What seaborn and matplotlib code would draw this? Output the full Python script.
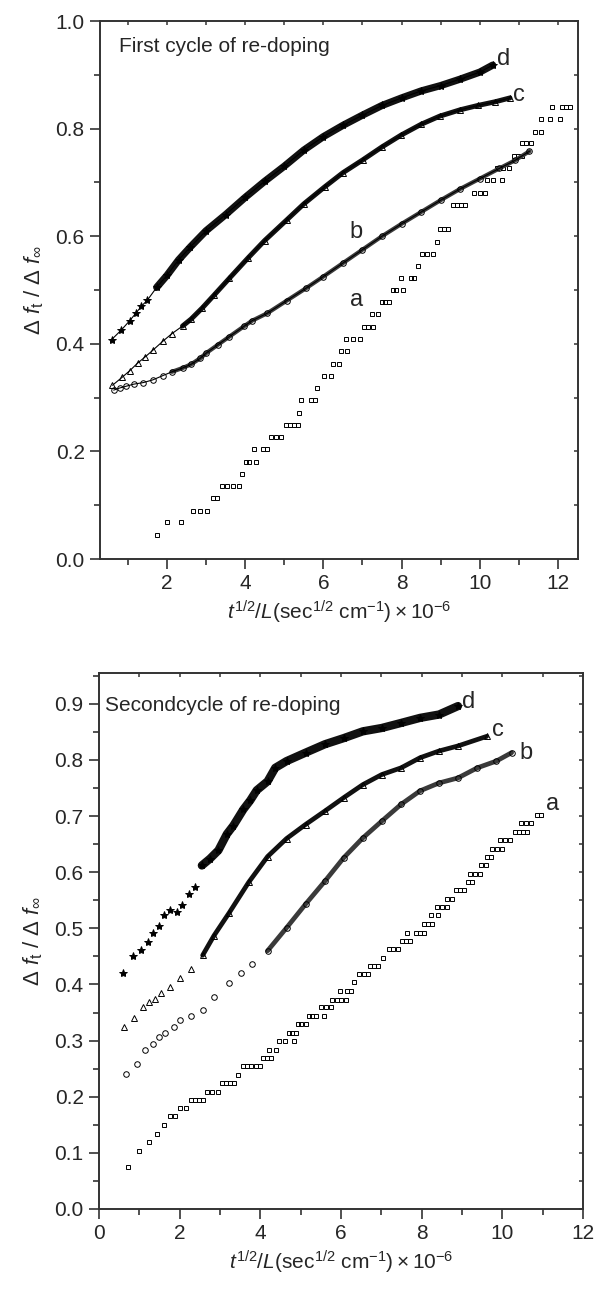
import numpy as np
import pandas as pd
import matplotlib
matplotlib.use("Agg")
import matplotlib.pyplot as plt
import seaborn as sns
from matplotlib.ticker import MultipleLocator

# ---------------- first cycle of re-doping (top) ----------------
top_d_x = [0.59, 0.84, 1.05, 1.22, 1.35, 1.50, 1.74, 2.00, 2.30, 2.60, 3.00, 3.50, 4.00,
           4.50, 5.00, 5.50, 6.00, 6.50, 7.00, 7.50, 8.00, 8.50, 9.00, 9.50, 10.00, 10.33]
top_d_y = [0.408, 0.426, 0.443, 0.458, 0.470, 0.481, 0.505, 0.527, 0.556, 0.580, 0.610, 0.640, 0.672,
           0.702, 0.730, 0.760, 0.785, 0.806, 0.825, 0.843, 0.857, 0.870, 0.880, 0.892, 0.905, 0.918]

top_c_x = [0.61, 0.86, 1.05, 1.25, 1.45, 1.64, 1.90, 2.13, 2.40, 2.62, 2.91, 3.20, 3.60, 4.08,
           4.50, 5.06, 5.50, 6.04, 6.50, 7.01, 7.50, 7.99, 8.50, 8.97, 9.50, 9.95, 10.40, 10.77]
top_c_y = [0.323, 0.338, 0.350, 0.364, 0.376, 0.388, 0.405, 0.419, 0.433, 0.446, 0.467, 0.490, 0.522, 0.560,
           0.592, 0.630, 0.660, 0.692, 0.718, 0.742, 0.766, 0.788, 0.808, 0.823, 0.835, 0.843, 0.850, 0.857]

top_b_x = [0.64, 0.80, 0.95, 1.15, 1.40, 1.64, 1.90, 2.13, 2.40, 2.62, 2.85, 3.01, 3.30, 3.59, 3.98,
           4.18, 4.57, 5.06, 5.55, 6.00, 6.50, 7.00, 7.50, 8.00, 8.50, 9.00, 9.50, 10.00, 10.50, 10.90, 11.27]
top_b_y = [0.314, 0.318, 0.321, 0.325, 0.328, 0.333, 0.341, 0.348, 0.355, 0.362, 0.373, 0.383, 0.398, 0.413, 0.433,
           0.443, 0.457, 0.480, 0.503, 0.525, 0.550, 0.575, 0.600, 0.623, 0.645, 0.667, 0.688, 0.707, 0.726, 0.741, 0.758]

# curve a is a staircase: each level and the x positions of the squares on it
top_a_rows = [
    (0.045, [1.74]), (0.068, [2.01, 2.36]), (0.090, [2.66, 2.84, 3.02]), (0.113, [3.17, 3.27]),
    (0.136, [3.40, 3.55, 3.70, 3.85]), (0.158, [3.91]), (0.181, [4.03, 4.09, 4.28]),
    (0.204, [4.23, 4.45, 4.57]), (0.227, [4.67, 4.79, 4.93]), (0.250, [5.04, 5.14, 5.24, 5.34]),
    (0.272, [5.38]), (0.295, [5.43, 5.69, 5.79]), (0.318, [5.84]), (0.340, [6.02, 6.19]),
    (0.363, [6.26, 6.39]), (0.386, [6.46, 6.61]), (0.409, [6.58, 6.76, 6.93]),
    (0.432, [7.03, 7.13, 7.28]), (0.455, [7.25, 7.40]), (0.478, [7.51, 7.58, 7.68]),
    (0.500, [7.77, 7.87, 8.04]), (0.523, [7.98, 8.24, 8.33]), (0.545, [8.43]),
    (0.567, [8.53, 8.66, 8.80]), (0.590, [8.90]), (0.614, [8.99, 9.09, 9.18]),
    (0.658, [9.32, 9.42, 9.52, 9.62]), (0.681, [9.85, 10.00, 10.14]), (0.705, [10.19, 10.34, 10.58]),
    (0.726, [10.45, 10.60, 10.75]), (0.749, [10.88, 10.98, 11.07]), (0.773, [11.07, 11.17, 11.32]),
    (0.794, [11.41, 11.56]), (0.818, [11.56, 11.80, 12.05]), (0.841, [11.85, 12.10, 12.20, 12.31]),
]

# ---------------- second cycle of re-doping (bottom) ----------------
bot_d_x = [0.59, 0.85, 1.04, 1.21, 1.35, 1.49, 1.60, 1.76, 1.93, 2.05, 2.22, 2.38, 2.55, 2.75, 2.96,
           3.17, 3.33, 3.58, 3.75, 3.91, 4.18, 4.37, 4.65, 5.12, 5.60, 6.07, 6.54, 7.01, 7.49, 7.96, 8.43, 8.90]
bot_d_y = [0.421, 0.450, 0.462, 0.475, 0.491, 0.504, 0.523, 0.532, 0.529, 0.541, 0.562, 0.573, 0.612, 0.624, 0.639,
           0.668, 0.683, 0.712, 0.728, 0.746, 0.762, 0.786, 0.798, 0.813, 0.828, 0.839, 0.851, 0.857, 0.866, 0.875, 0.881, 0.896]

bot_c_x = [0.61, 0.87, 1.09, 1.25, 1.40, 1.53, 1.77, 2.00, 2.29, 2.57, 2.85, 3.23, 3.71, 4.18,
           4.65, 5.12, 5.60, 6.07, 6.54, 7.01, 7.49, 7.96, 8.43, 8.90, 9.61]
bot_c_y = [0.325, 0.341, 0.359, 0.368, 0.374, 0.384, 0.396, 0.411, 0.428, 0.452, 0.487, 0.528, 0.582, 0.628,
           0.660, 0.685, 0.709, 0.733, 0.756, 0.774, 0.786, 0.804, 0.816, 0.825, 0.842]

bot_b_x = [0.66, 0.95, 1.13, 1.34, 1.48, 1.64, 1.86, 2.00, 2.29, 2.57, 2.85, 3.23, 3.52, 3.80, 4.18,
           4.65, 5.12, 5.60, 6.07, 6.54, 7.01, 7.49, 7.96, 8.43, 8.90, 9.38, 9.85, 10.23]
bot_b_y = [0.241, 0.259, 0.283, 0.294, 0.306, 0.313, 0.324, 0.337, 0.343, 0.354, 0.378, 0.402, 0.420, 0.437, 0.460,
           0.501, 0.543, 0.584, 0.626, 0.661, 0.691, 0.721, 0.745, 0.759, 0.768, 0.786, 0.798, 0.813]

bot_a_rows = [
    (0.075, [0.71]), (0.104, [1.00]), (0.119, [1.23]), (0.134, [1.43]), (0.149, [1.60]),
    (0.165, [1.75, 1.89]), (0.179, [2.01, 2.15]), (0.194, [2.27, 2.38, 2.48, 2.59]),
    (0.209, [2.67, 2.81, 2.95]), (0.225, [3.04, 3.14, 3.25, 3.35]), (0.239, [3.45]),
    (0.254, [3.56, 3.67, 3.78, 3.88, 3.99]), (0.269, [4.06, 4.16, 4.27]), (0.284, [4.22, 4.39]),
    (0.299, [4.46, 4.60, 4.84]), (0.314, [4.70, 4.79, 4.89]), (0.329, [4.93, 5.02, 5.12]),
    (0.344, [5.20, 5.29, 5.38, 5.58]), (0.359, [5.50, 5.62, 5.74]), (0.373, [5.78, 5.90, 6.01, 6.12]),
    (0.389, [5.97, 6.16, 6.26]), (0.404, [6.33]), (0.418, [6.45, 6.56, 6.68]),
    (0.433, [6.73, 6.82, 6.92]), (0.448, [7.04]), (0.463, [7.20, 7.30, 7.42]),
    (0.477, [7.52, 7.62, 7.72]), (0.492, [7.63, 7.85, 7.95, 8.05]), (0.507, [8.05, 8.15, 8.25]),
    (0.523, [8.24, 8.40]), (0.538, [8.38, 8.50, 8.62]), (0.553, [8.64, 8.76]),
    (0.568, [8.85, 8.95, 9.05]), (0.582, [9.14, 9.25]), (0.597, [9.20, 9.32, 9.45]),
    (0.612, [9.48, 9.60]), (0.627, [9.62, 9.72]), (0.642, [9.75, 9.86, 9.98]),
    (0.657, [9.95, 10.06, 10.18]), (0.672, [10.32, 10.42, 10.52, 10.62]),
    (0.687, [10.46, 10.58, 10.70]), (0.702, [10.87, 10.95]),
]

top_labels = {"a": (6.68, 0.482), "b": (6.68, 0.607), "c": (10.85, 0.862), "d": (10.44, 0.930)}
bot_labels = {"a": (11.08, 0.721), "b": (10.42, 0.813), "c": (9.75, 0.853), "d": (9.00, 0.904)}


def rows_to_frame(rows):
    xs, ys = [], []
    for level, row in rows:
        xs += row
        ys += [level] * len(row)
    return pd.DataFrame({"x": xs, "y": ys})


def draw_series(ax, xs, ys, marker, ms, filled, line_lw, split, band_lw, band_color):
    df = pd.DataFrame({"x": xs, "y": ys})
    dense = df[df.x >= split]
    # the dense run of overlapping markers reads as a thick band
    sns.lineplot(data=dense, x="x", y="y", ax=ax, estimator=None, sort=False,
                 color=band_color, lw=band_lw, solid_capstyle="round", zorder=2)
    sns.lineplot(data=df, x="x", y="y", ax=ax, estimator=None, sort=False,
                 color="black", lw=line_lw, ls="-" if line_lw > 0 else "none",
                 marker=marker, ms=ms, mfc="black" if filled else "none",
                 mec="black", mew=0.7, zorder=3)


def style_axes(ax, xlim, ylim, ymajor, yminor, first_x):
    ax.set_xlim(*xlim)
    ax.set_ylim(*ylim)
    ax.xaxis.set_major_locator(MultipleLocator(2))
    ax.xaxis.set_minor_locator(MultipleLocator(1))
    ax.yaxis.set_major_locator(MultipleLocator(ymajor))
    ax.yaxis.set_minor_locator(MultipleLocator(yminor))
    ax.yaxis.set_major_formatter(lambda v, p: f"{v:.1f}")
    ax.xaxis.set_major_formatter(lambda v, p: f"{v:.0f}" if v >= first_x else "")
    ax.tick_params(which="major", direction="out", length=7, width=1.2,
                   labelsize=15, pad=4, color="#333333")
    ax.tick_params(which="minor", direction="out", length=4, width=1.2, color="#333333")
    for s in ax.spines.values():
        s.set_visible(True)
        s.set_linewidth(1.4)
        s.set_color("#333333")
    for side in ("top", "right"):
        sec = ax.secondary_xaxis("top") if side == "top" else ax.secondary_yaxis("right")
        axis = sec.xaxis if side == "top" else sec.yaxis
        axis.set_major_locator(MultipleLocator(2 if side == "top" else ymajor))
        axis.set_minor_locator(MultipleLocator(1 if side == "top" else yminor))
        sec.tick_params(which="both", direction="in", length=3, width=1.1, color="#333333",
                        labeltop=False, labelright=False)
        sec.spines[side].set_visible(False)
    ax.set_xlabel(r"$t^{1/2}/L(\mathrm{sec}^{1/2}\ \mathrm{cm}^{-1})\times10^{-6}$",
                  fontsize=15, labelpad=4)
    ax.set_ylabel(r"$\Delta\ f_{\mathrm{t}}\ /\ \Delta\ f_{\infty}$", fontsize=16, labelpad=7)


sns.set_theme(style="ticks")
plt.rcParams["font.family"] = ["Liberation Sans", "DejaVu Sans"]
plt.rcParams["mathtext.fontset"] = "custom"
plt.rcParams["mathtext.rm"] = "Liberation Sans"
plt.rcParams["mathtext.it"] = "Liberation Sans:italic"
plt.rcParams["mathtext.bf"] = "Liberation Sans:bold"

fig = plt.figure(figsize=(5.99, 12.89), dpi=100)
ax1 = fig.add_axes([0.1669, 0.5663, 0.7980, 0.4174])
ax2 = fig.add_axes([0.1653, 0.0621, 0.8080, 0.4158])

# top panel
top_a = rows_to_frame(top_a_rows)
sns.lineplot(data=top_a, x="x", y="y", ax=ax1, estimator=None, sort=False, ls="none",
             marker="s", ms=3.5, mfc="none", mec="black", mew=0.7, color="black")
draw_series(ax1, top_b_x, top_b_y, "o", 4, False, 0.8, 2.0, 3.0, "#3a3a3a")
draw_series(ax1, top_c_x, top_c_y, "^", 5, False, 0.8, 2.4, 3.6, "#111111")
draw_series(ax1, top_d_x, top_d_y, "*", 6, True, 0.8, 1.7, 5.2, "#111111")
style_axes(ax1, (0.29, 12.51), (0, 1.0), 0.2, 0.1, 1)
ax1.text(0.039, 0.943, "First cycle of re-doping", transform=ax1.transAxes, fontsize=15)
for lab, (lx, ly) in top_labels.items():
    ax1.text(lx, ly, lab, fontsize=17, va="center", ha="left")

# bottom panel
bot_a = rows_to_frame(bot_a_rows)
sns.lineplot(data=bot_a, x="x", y="y", ax=ax2, estimator=None, sort=False, ls="none",
             marker="s", ms=3.5, mfc="none", mec="black", mew=0.7, color="black")
draw_series(ax2, bot_b_x, bot_b_y, "o", 4, False, 0, 4.0, 3.4, "#3a3a3a")
draw_series(ax2, bot_c_x, bot_c_y, "^", 5, False, 0, 2.4, 3.4, "#111111")
draw_series(ax2, bot_d_x, bot_d_y, "*", 6, True, 0, 2.55, 6.0, "#111111")
style_axes(ax2, (0, 12), (0, 0.955), 0.1, 0.05, 0)
ax2.text(0.012, 0.93, "Secondcycle of re-doping", transform=ax2.transAxes, fontsize=15)
for lab, (lx, ly) in bot_labels.items():
    ax2.text(lx, ly, lab, fontsize=17, va="center", ha="left")

fig.savefig("out.png", dpi=100, facecolor="white")
